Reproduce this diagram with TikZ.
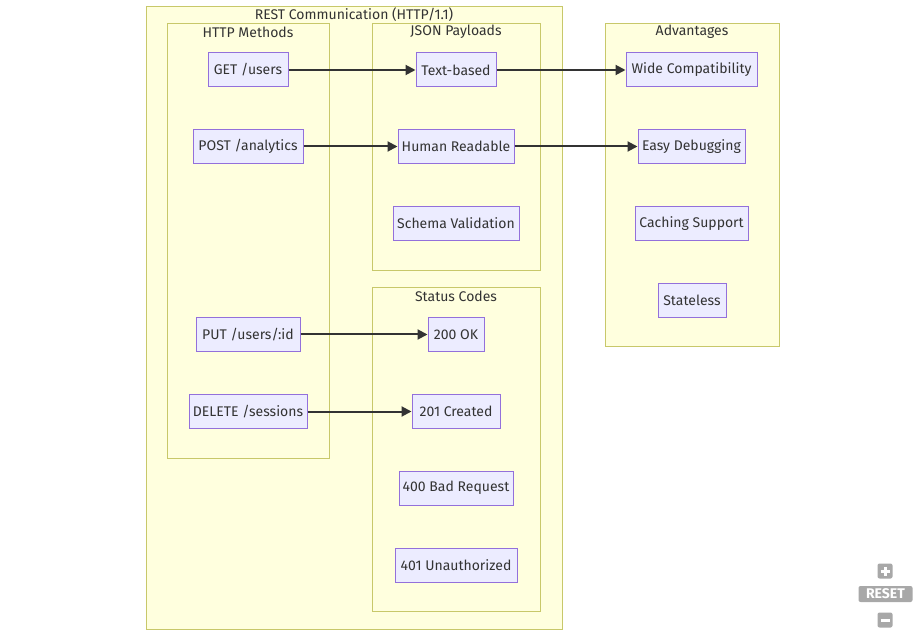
\documentclass[tikz,border=0pt]{standalone}
\usepackage{fontspec}
\setmainfont{Fira Sans}
\usetikzlibrary{arrows.meta}
\definecolor{clfill}{HTML}{FFFFDE}
\definecolor{clline}{HTML}{C8C86A}
\definecolor{ndfill}{HTML}{ECECFF}
\definecolor{ndline}{HTML}{9370DB}
\definecolor{txt}{HTML}{333333}
\definecolor{ctl}{HTML}{A8A8A8}
\tikzset{
  cluster/.style={draw=clline, fill=clfill, line width=1pt},
  ctitle/.style={text=txt, font=\fontsize{14}{16}\selectfont, inner sep=0pt},
  box/.style={draw=ndline, fill=ndfill, line width=1pt, text=txt,
    font=\fontsize{14}{16}\selectfont, minimum height=34pt, inner sep=0pt},
  link/.style={draw=txt, line width=2pt, -{Triangle[length=10pt,width=10pt]}},
  ctlbox/.style={fill=ctl, rounded corners=2pt, inner sep=0pt, text=white}
}
\begin{document}
\begin{tikzpicture}[x=1pt,y=-1pt]
\useasboundingbox (0,0) rectangle (924,636);
\fill[white] (0,0) rectangle (924,636);
% clusters
\draw[cluster] (146,7) rectangle (562,629);
\node[ctitle] (tRest) at (354,15) {REST Communication (HTTP/1.1)};
\draw[cluster] (167,24) rectangle (329,458);
\node[ctitle] (tHttp) at (248,32) {HTTP Methods};
\draw[cluster] (372,24) rectangle (540,271);
\node[ctitle] (tJson) at (456,32) {JSON Payloads};
\draw[cluster] (372,288) rectangle (540,611);
\node[ctitle] (tStat) at (456,296) {Status Codes};
\draw[cluster] (605,24) rectangle (779,347);
\node[ctitle] (tAdv) at (692,32) {Advantages};
% nodes
\node[box, minimum width=80pt] (get) at (248,70) {GET /users};
\node[box, minimum width=110pt] (post) at (248,146.5) {POST /analytics};
\node[box, minimum width=104pt] (put) at (248,334.5) {PUT /users/:id};
\node[box, minimum width=118pt] (del) at (248,411.5) {DELETE /sessions};
\node[box, minimum width=80pt] (text) at (456,70) {Text-based};
\node[box, minimum width=116pt] (human) at (456,146.5) {Human Readable};
\node[box, minimum width=126pt] (schema) at (456,223.5) {Schema Validation};
\node[box, minimum width=56pt] (ok) at (456,334.5) {200 OK};
\node[box, minimum width=88pt] (created) at (456,411.5) {201 Created};
\node[box, minimum width=114pt] (bad) at (456,488) {400 Bad Request};
\node[box, minimum width=122pt] (unauth) at (456,565) {401 Unauthorized};
\node[box, minimum width=131pt] (wide) at (691.5,70) {Wide Compatibility};
\node[box, minimum width=107pt] (easy) at (691.5,146.5) {Easy Debugging};
\node[box, minimum width=113pt] (cache) at (691.5,223.5) {Caching Support};
\node[box, minimum width=68pt] (state) at (692,300.5) {Stateless};
% links
\draw[link] (get) -- (text);
\draw[link] (text) -- (wide);
\draw[link] (post) -- (human);
\draw[link] (human) -- (easy);
\draw[link] (put) -- (ok);
\draw[link] (del) -- (created);
% zoom controls
\node[ctlbox, minimum width=15pt, minimum height=15pt] (plus) at (885,571) {};
\draw[white, line width=3pt] ([xshift=-4.5pt]plus.center) -- ([xshift=4.5pt]plus.center)
  ([yshift=-4.5pt]plus.center) -- ([yshift=4.5pt]plus.center);
\node[ctlbox, minimum width=54pt, minimum height=16pt, font=\bfseries\fontsize{14}{14}\selectfont] (reset) at (885.5,594) {RESET};
\node[ctlbox, minimum width=15pt, minimum height=15pt] (minus) at (885,620) {};
\draw[white, line width=3pt] ([xshift=-4.5pt]minus.center) -- ([xshift=4.5pt]minus.center);
\end{tikzpicture}
\end{document}
